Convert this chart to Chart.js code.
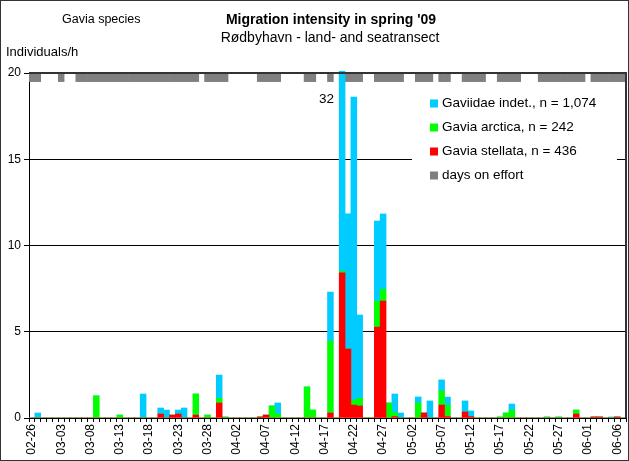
<!DOCTYPE html>
<html><head><meta charset="utf-8">
<script src="https://cdn.jsdelivr.net/npm/chart.js@4/dist/chart.umd.min.js"></script>
<style>html,body{margin:0;padding:0;background:#fff}#wrap{width:629px;height:461px;position:relative}</style>
</head><body><div id="wrap"><canvas id="c" width="629" height="461" style="width:629px;height:461px;display:block"></canvas></div>
<script>
const days = [
'02-26','02-27','02-28',
'03-01','03-02','03-03','03-04','03-05','03-06','03-07','03-08','03-09','03-10',
'03-11','03-12','03-13','03-14','03-15','03-16','03-17','03-18','03-19','03-20',
'03-21','03-22','03-23','03-24','03-25','03-26','03-27','03-28','03-29','03-30','03-31',
'04-01','04-02','04-03','04-04','04-05','04-06','04-07','04-08','04-09','04-10',
'04-11','04-12','04-13','04-14','04-15','04-16','04-17','04-18','04-19','04-20',
'04-21','04-22','04-23','04-24','04-25','04-26','04-27','04-28','04-29','04-30',
'05-01','05-02','05-03','05-04','05-05','05-06','05-07','05-08','05-09','05-10',
'05-11','05-12','05-13','05-14','05-15','05-16','05-17','05-18','05-19','05-20',
'05-21','05-22','05-23','05-24','05-25','05-26','05-27','05-28','05-29','05-30','05-31',
'06-01','06-02','06-03','06-04','06-05','06-06','06-07'];

const tickLabels = ['02-26','03-03','03-08','03-13','03-18','03-23','03-28','04-02','04-07','04-12',
'04-17','04-22','04-27','05-02','05-07','05-12','05-17','05-22','05-27','06-01','06-06'];

// Gavia stellata (red)
const stellata = [
0,0,0,0,0,0,0,0,0,0,
0,0,0,0,0,0,0,0,0,0,
0,0,0.23,0,0.17,0.23,0,0,0.17,0,
0,0,0.87,0,0,0,0,0,0,0.06,
0.17,0,0,0,0,0,0,0,0,0,
0,0.29,0,8.41,4.0,0.75,0.70,0,0,5.27,
6.78,0,0.08,0,0,0,0,0.29,0,0,
0.75,0.08,0,0,0.35,0.08,0,0,0,0,
0,0,0,0,0,0,0,0,0,0,
0,0,0,0.23,0,0,0.06,0.06,0,0,
0.06,0];

// Gavia arctica (green)
const arctica = [
0,0,0,0,0,0,0,0,0,0,
0,1.28,0,0,0,0.17,0,0,0,0,
0,0,0,0,0,0,0,0,1.22,0,
0.17,0,0.27,0.06,0,0,0,0,0,0,
0,0.70,0.23,0,0,0,0,1.80,0.46,0,
0,4.17,0,0.10,0,0.29,0.44,0,0,1.51,
0.68,0.87,0.23,0,0,0,0.87,0,0,0,
0.82,0.67,0,0,0,0,0,0,0,0,
0.06,0.29,0.46,0,0,0,0,0,0.06,0,
0.06,0,0,0.23,0,0,0,0,0,0,
0,0];

// Gaviidae indet. (blue)
const indet = [
0,0.29,0,0,0,0,0,0,0,0,
0,0,0,0,0,0,0,0,0,1.39,
0,0,0.35,0.46,0,0.23,0.58,0,0,0,
0,0,1.35,0,0,0,0,0,0,0,
0,0,0.64,0,0,0,0,0,0,0,
0,2.84,0,23.49,7.83,17.57,4.83,0,0,4.64,
4.37,0,1.08,0.29,0,0,0.35,0,0.99,0,
0.64,0.46,0,0,0.64,0.33,0,0,0,0,
0,0,0.35,0,0,0,0,0,0,0,
0,0,0,0,0,0,0,0,0,0.06,
0,0];

// days on effort (1 = yes)
const effort = [
1,1,0,0,0,1,0,0,1,1,
1,1,1,1,1,1,1,1,1,1,
1,1,1,1,1,1,1,1,1,0,
1,1,1,1,0,0,0,0,0,1,
1,1,1,0,0,0,0,1,1,0,
0,1,0,1,1,1,1,0,0,1,
1,1,1,1,0,0,1,1,1,0,
1,1,0,0,1,1,1,1,0,0,
1,1,1,1,0,0,0,1,1,1,
1,1,1,1,1,0,1,1,1,1,
1,1];

const seriesNames = ['Gaviidae indet., n = 1,074','Gavia arctica, n = 242','Gavia stellata, n = 436','days on effort'];
const seriesColors = ['#00CCFF','#00FF00','#FF0000','#808080'];
const titleText = "Migration intensity in spring '09";
const subtitleText = 'Rødbyhavn - land- and seatransect';
const leftTitle = 'Gavia species';
const yTitle = 'Individuals/h';
const yMax = 20;

const FONT = "'Liberation Sans', Arial, Helvetica, sans-serif";
const totals = days.map((d,i)=>stellata[i]+arctica[i]+indet[i]);

const decor = {
  id:'decor',
  beforeDraw(chart){
    const c = chart.ctx; c.save(); c.fillStyle='#fff'; c.fillRect(0,0,chart.width,chart.height); c.restore();
  },
  afterDatasetsDraw(chart){
    const {ctx, chartArea:a, scales:{x,y}} = chart;
    ctx.save();
    // legend box (inside plot)
    ctx.fillStyle='#fff';
    ctx.fillRect(412, 88, a.right-412-9, 102);
    ctx.font = '13.5px '+FONT; ctx.textBaseline='middle'; ctx.textAlign='left';
    const order = [2,1,0,3];
    order.forEach((di,k)=>{
      const ds = chart.data.datasets[di];
      const yy = 103.5 + k*24;
      ctx.fillStyle = ds.backgroundColor;
      ctx.fillRect(430, yy-4, 8, 8);
      ctx.fillStyle = '#000';
      ctx.fillText(ds.label, 442, yy);
    });
    // frame top & right
    ctx.strokeStyle='#333'; ctx.lineWidth=2;
    ctx.beginPath(); ctx.moveTo(a.left, a.top); ctx.lineTo(a.right, a.top); ctx.lineTo(a.right, a.bottom); ctx.stroke();
    // peak label
    let pk = 0; totals.forEach((t,i)=>{ if(t>totals[pk]) pk=i; });
    if (totals[pk] > yMax) {
      ctx.fillStyle='#000'; ctx.font='13.5px '+FONT; ctx.textAlign='right'; ctx.textBaseline='middle';
      ctx.fillText(String(Math.round(totals[pk])), x.getPixelForValue(pk)-8, y.getPixelForValue(18.45));
    }
    ctx.restore();
  },
  afterDraw(chart){
    const ctx = chart.ctx;
    ctx.save();
    ctx.fillStyle='#000'; ctx.textBaseline='middle';
    ctx.font='12.5px '+FONT; ctx.textAlign='left';
    ctx.fillText(leftTitle, 62, 20);
    ctx.font='bold 14px '+FONT; ctx.textAlign='center';
    ctx.fillText(titleText, 331, 20);
    ctx.font='14px '+FONT;
    ctx.fillText(subtitleText, 330, 38);
    ctx.font='13px '+FONT; ctx.textAlign='left';
    ctx.fillText(yTitle, 6, 52);
    ctx.strokeStyle='#333'; ctx.lineWidth=1;
    ctx.strokeRect(0.5,0.5,chart.width-1,chart.height-1);
    ctx.restore();
  }
};

const clipTop = {left:0, right:0, bottom:0, top:2};
const barOpts = {barPercentage:1, categoryPercentage:1, borderWidth:0, clip:clipTop, grouped:false};
new Chart(document.getElementById('c'), {
  type:'bar',
  data:{
    labels: days,
    datasets:[
      Object.assign({label:seriesNames[2], data:stellata, backgroundColor:seriesColors[2], stack:'s'}, barOpts),
      Object.assign({label:seriesNames[1], data:arctica, backgroundColor:seriesColors[1], stack:'s'}, barOpts),
      Object.assign({label:seriesNames[0], data:indet, backgroundColor:seriesColors[0], stack:'s'}, barOpts),
      Object.assign({label:seriesNames[3], data:effort.map(v=>v?[yMax-0.5,yMax]:null), backgroundColor:seriesColors[3], xAxisID:'x2', stack:'e'}, barOpts)
    ]
  },
  options:{
    responsive:false, animation:false,
    layout:{padding:{top:73, right:3, left:0, bottom:0}},
    plugins:{legend:{display:false}, tooltip:{enabled:false}, title:{display:false}},
    scales:{
      x:{
        stacked:true, offset:true,
        grid:{offset:true, drawOnChartArea:false, tickLength:4, tickColor:'#000', color:'#000'},
        border:{color:'#000', width:1},
        ticks:{autoSkip:false, maxRotation:90, minRotation:90, padding:2, color:'#000',
          font:{size:12, family:FONT},
          callback:(v,i)=> tickLabels.includes(days[i]) ? days[i] : ''},
        afterFit:(s)=>{ s.height = 43; s.paddingLeft = 0; s.paddingRight = 0; }
      },
      x2:{ type:'category', labels:days, display:false, offset:true, stacked:true,
        afterFit:(s)=>{ s.paddingLeft = 0; s.paddingRight = 0; } },
      y:{
        stacked:true, min:0, max:yMax,
        ticks:{stepSize:5, color:'#000', padding:3, font:{size:12, family:FONT}},
        grid:{color:(c)=> [5,10,15].includes(c.tick && c.tick.value) ? '#000' : 'rgba(0,0,0,0)', tickColor:'#000', tickLength:5, lineWidth:1},
        border:{color:'#000', width:1},
        afterFit:(s)=>{ s.width = 29; }
      }
    }
  },
  plugins:[decor]
});
</script>
</body></html>
